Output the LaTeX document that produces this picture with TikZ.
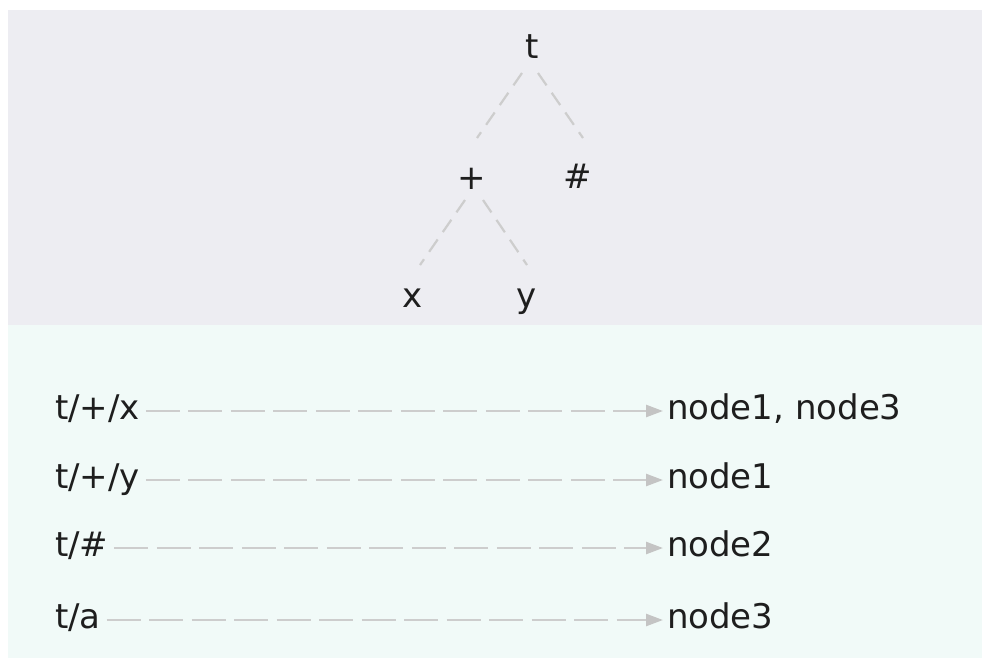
\documentclass[tikz,border=0pt]{standalone}
\usepackage{fontspec}
\setmainfont{DejaVu Sans}
\usetikzlibrary{arrows.meta}
\definecolor{topbg}{RGB}{237,237,242}
\definecolor{botbg}{RGB}{241,250,248}
\definecolor{ink}{RGB}{30,30,30}
\definecolor{dashc}{RGB}{205,205,205}
\definecolor{tipc}{RGB}{196,196,196}
\begin{document}
\begin{tikzpicture}[x=1pt,y=-1pt,
  lbl/.style={inner sep=0pt,outer sep=0pt,text=ink,font=\fontsize{34}{40}\selectfont,anchor=base},
  lblw/.style={lbl,anchor=base west},
  treeedge/.style={draw=dashc,line width=2.2pt,dash pattern=on 15pt off 9pt},
  maparrow/.style={draw=dashc,line width=2.5pt,dash pattern=on 34pt off 8.5pt,
    -{Triangle[length=17pt,width=12pt,fill=tipc,color=tipc]}}
]
\useasboundingbox (0,0) rectangle (982,659);
\fill[topbg] (8,10) rectangle (982,325);
\fill[botbg] (8,325) rectangle (982,658);

% tree
\node[lbl] (t) at (532,58) {t};
\node[lbl] (plus) at (472,189) {+};
\node[lbl] (hash) at (578,188) {\#};
\node[lbl] (x) at (413,307) {x};
\node[lbl] (y) at (527,307) {y};

\coordinate (tA) at (522,73);  \coordinate (pA) at (477,138);
\coordinate (tB) at (538,73);  \coordinate (hB) at (583,138);
\coordinate (pC) at (465,200); \coordinate (xC) at (420,265);
\coordinate (pD) at (483,200); \coordinate (yD) at (527,265);
\draw[treeedge] (tA) -- (pA);
\draw[treeedge] (tB) -- (hB);
\draw[treeedge] (pC) -- (xC);
\draw[treeedge] (pD) -- (yD);

% mappings
\node[lblw] (k1) at (55,419) {t/+/x};
\node[lblw] (k2) at (55,488) {t/+/y};
\node[lblw] (k3) at (55,556) {t/\#};
\node[lblw] (k4) at (55,628) {t/a};

\node[lblw] (v1) at (667,419) {node1, node3};
\node[lblw] (v2) at (667,488) {node1};
\node[lblw] (v3) at (667,556) {node2};
\node[lblw] (v4) at (667,628) {node3};

\draw[maparrow] ([xshift=6pt,yshift=8pt]k1.base east) -- ([xshift=-4pt,yshift=8pt]v1.base west);
\draw[maparrow] ([xshift=6pt,yshift=8pt]k2.base east) -- ([xshift=-4pt,yshift=8pt]v2.base west);
\draw[maparrow] ([xshift=6pt,yshift=8pt]k3.base east) -- ([xshift=-4pt,yshift=8pt]v3.base west);
\draw[maparrow] ([xshift=6pt,yshift=8pt]k4.base east) -- ([xshift=-4pt,yshift=8pt]v4.base west);
\end{tikzpicture}
\end{document}
